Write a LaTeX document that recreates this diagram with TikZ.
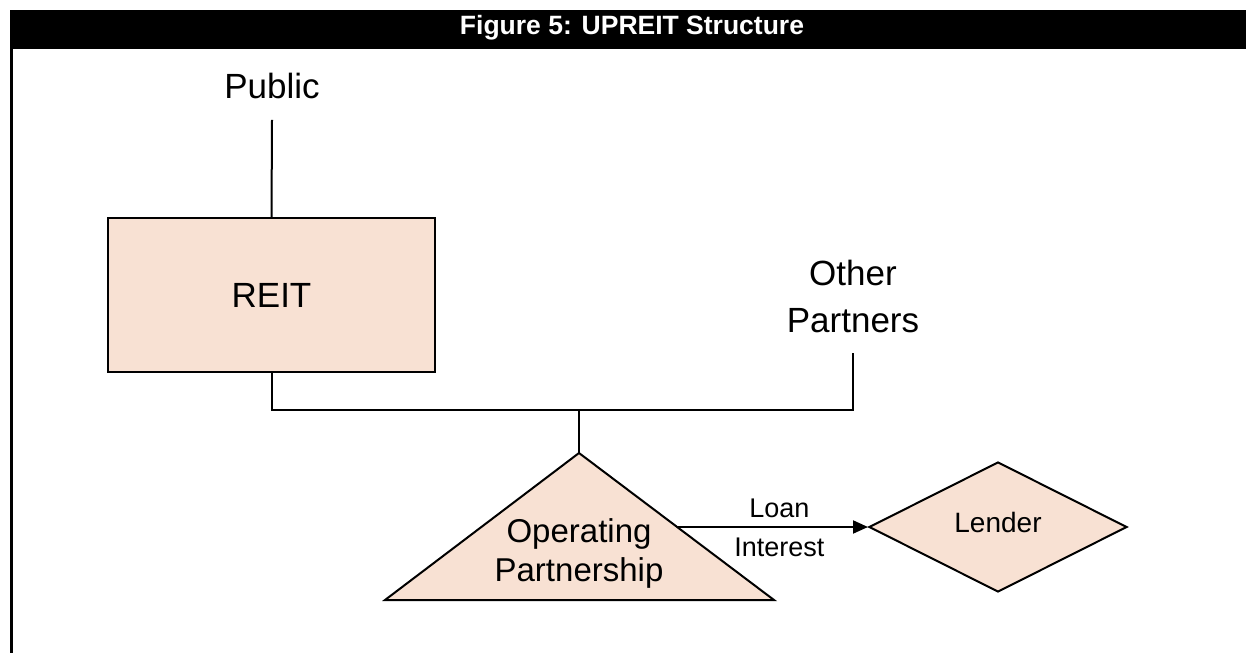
\documentclass[tikz,border=0pt]{standalone}
\usepackage{fontspec}
\setmainfont{Liberation Sans}
\usetikzlibrary{shapes.geometric,arrows.meta}
\definecolor{peach}{RGB}{248,225,211}
\begin{document}
\begin{tikzpicture}[x=1pt,y=-1pt,line width=2pt,
	box/.style={draw,fill=peach,line width=2pt},
	big/.style={font=\fontsize{35}{47}\selectfont,align=center,inner sep=0pt},
	small/.style={font=\fontsize{27}{32}\selectfont,inner sep=0pt}]
			\useasboundingbox (0,0) rectangle (1246,653);
			\fill (10,10) rectangle (1246,49);
			\node (title) at (632,28) [text=white,font=\fontsize{26.5}{30}\selectfont\bfseries] {Figure 5: UPREIT Structure};
			\draw[line width=3.5pt] (11.5,49) -- (11.5,653);
			\node (public) at (272,86) [big] {Public};
			\node (reit) at (271.5,295) [box,big,minimum width=327pt,minimum height=154pt] {REIT};
			\node (other) at (853,296) [big] {Other\\Partners};
			\coordinate (join) at (579,410);
			\draw ([yshift=-20pt]public.south) -- (reit.north);
			\draw (reit.south) |- (join) -| ([yshift=-20pt]other.south);
			\filldraw[box] (579,453) coordinate (apex) -- (774,600) -- (385,600) -- cycle;
			\draw (join) -- (apex);
			\node (oppart) at (579,553) [font=\fontsize{33}{39}\selectfont,align=center,inner sep=0pt] {Operating\\Partnership};
			\node (lender) at (998,527) [box,diamond,minimum width=258pt,minimum height=130pt,inner sep=0pt,font=\fontsize{28}{34}\selectfont,text depth=10pt] {Lender};
			\coordinate (opright) at (677,527);
			\draw[-{Triangle[length=15pt,width=13pt]}] (opright) -- (lender.west)
				node[pos=0.536,above=8pt,small] (loan) {Loan}
				node[pos=0.536,below=10pt,small] (interest) {Interest};
\end{tikzpicture}
\end{document}
